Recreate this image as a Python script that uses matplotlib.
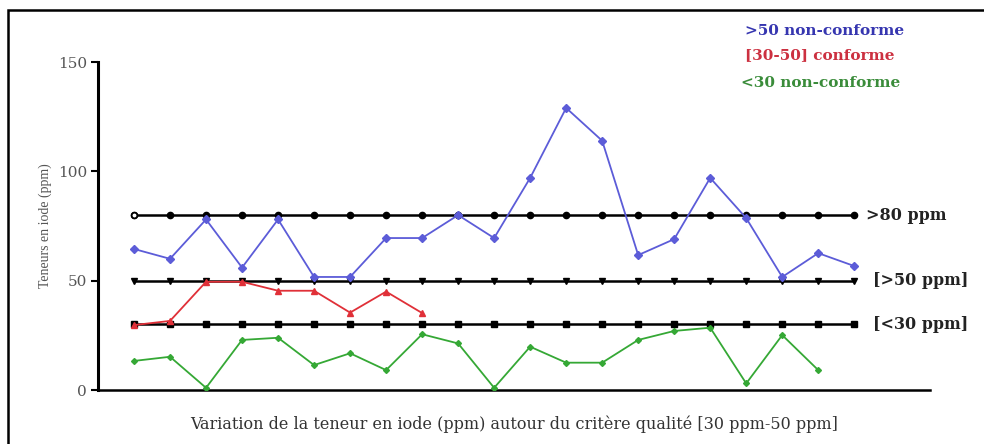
import numpy as np
import matplotlib
matplotlib.use("Agg")
import matplotlib.pyplot as plt
from matplotlib.patches import Rectangle

plt.rcParams['font.family'] = ['Liberation Serif', 'DejaVu Serif']

# -----------------------------
# DATA
# -----------------------------
samples = np.arange(1, 22)

blue_vals = [64.5, 60, 78, 56, 78, 51.7, 51.7, 69.5, 69.5, 80, 69.5,
             97, 129, 114, 61.7, 69, 97, 78.6, 51.7, 62.6, 56.7]
red_vals = [29.7, 31.6, 49.5, 49.5, 45.4, 45.4, 35.4, 45, 35.2]
green_vals = [13.3, 15.2, 1, 22.9, 23.9, 11.4, 16.8, 9.1, 25.5, 21.3, 1,
              19.8, 12.5, 12.5, 22.9, 27, 28.5, 3, 25.1, 9.1]

ref_levels = [80, 50, 30]
ref_labels = [">80 ppm", "[>50 ppm]", "[<30 ppm]"]
legend_labels = [">50 non-conforme", "[30-50] conforme", "<30 non-conforme"]

y_ticks = [0, 50, 100, 150]

# -----------------------------
# PLOT
# -----------------------------
fig = plt.figure(figsize=(9.84, 4.44), dpi=100)
ax = fig.add_axes([0.0996, 0.1216, 0.8454, 0.7387])

blue = '#5c5cd8'
red = '#e03038'
green = '#35a835'
wide = 'DejaVu Serif'

# reference lines
ref_markers = ['o', 'v', 's']
for lvl, mk in zip(ref_levels, ref_markers):
    ax.plot(samples, [lvl] * len(samples), color='black', lw=1.8,
            marker=mk, ms=5 if mk != 'o' else 4.5, zorder=2)
# open first marker on the 80 line
ax.plot(samples[0], ref_levels[0], marker='o', ms=4, mfc='white',
        mec='black', mew=1.2, zorder=3)

ax.plot(samples, blue_vals, color=blue, lw=1.3, marker='D', ms=4, zorder=4)
ax.plot(samples[:len(red_vals)], red_vals, color=red, lw=1.3, marker='^', ms=5, zorder=4)
ax.plot(samples[:len(green_vals)], green_vals, color=green, lw=1.3, marker='D', ms=3, zorder=4)

ax.set_xlim(0, 23.1)
ax.set_ylim(0, 150)
ax.set_yticks(y_ticks)
ax.set_yticklabels([str(t) for t in y_ticks], color='#555555', fontsize=11,
                   family=wide)
ax.set_xticks([])
ax.tick_params(axis='y', direction='out', length=5, width=1.5, pad=3)
for s in ['top', 'right']:
    ax.spines[s].set_visible(False)
ax.spines['left'].set_linewidth(2.2)
ax.spines['bottom'].set_linewidth(1.8)

ax.set_ylabel("Teneurs en iode (ppm)", fontsize=10, color='#555555', labelpad=4)
ax.set_xlabel("Variation de la teneur en iode (ppm) autour du critère qualité [30 ppm-50 ppm]",
              fontsize=11.5, color='#333333', labelpad=18, family=wide)

# labels of reference lines
for lvl, lab, dx in zip(ref_levels, ref_labels, [21.32, 21.52, 21.52]):
    ax.text(dx, lvl, lab, fontsize=11.5, fontweight='bold', color='#222222',
            va='center', ha='left', clip_on=False, family=wide)

# colour legend text
for lab, col, yy in zip(legend_labels, ['#3636b0', '#cc3040', '#3a8c3a'],
                        [0.93, 0.877, 0.812]):
    fig.text(0.757 if lab[0] != '<' else 0.753, yy, lab, fontsize=11,
             fontweight='bold', color=col, va='center', ha='left', family=wide)

# frame around figure (left and top only visible)
fig.patches.append(Rectangle((8 / 984, -0.1), 1.2, (444 - 10) / 444 + 0.1,
                             transform=fig.transFigure, fill=False,
                             lw=1.8, ec='black'))

fig.savefig("out.png", dpi=100)
